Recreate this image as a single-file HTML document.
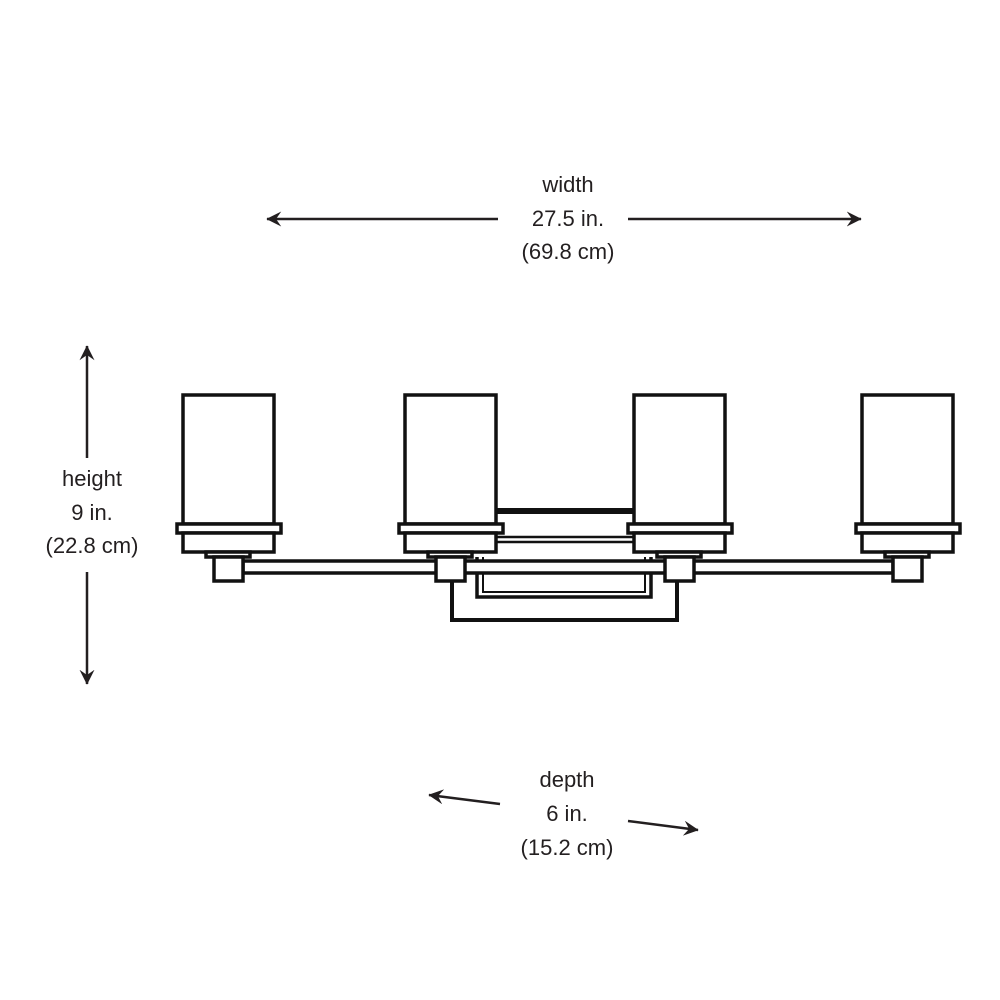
<!DOCTYPE html>
<html><head><meta charset="utf-8"><style>
html,body{margin:0;padding:0;background:#fff;width:1000px;height:1000px;overflow:hidden}
svg{display:block}
text{font-family:"Liberation Sans",sans-serif;font-size:22px;fill:#231f20;text-anchor:middle}
</style></head><body>
<svg width="1000" height="1000" viewBox="0 0 1000 1000">
<defs><marker id="a" viewBox="0 0 10 10" refX="9.5" refY="5" markerWidth="6" markerHeight="6" orient="auto"><path d="M0,0 L10,5 L0,10 L3.5,5 z" fill="#231f20"/></marker></defs>
<g stroke="#231f20" stroke-width="2.5" fill="none">
<line x1="498" y1="219" x2="267" y2="219" marker-end="url(#a)"/>
<line x1="628" y1="219" x2="861" y2="219" marker-end="url(#a)"/>
<line x1="87" y1="458" x2="87" y2="346" marker-end="url(#a)"/>
<line x1="87" y1="572" x2="87" y2="684" marker-end="url(#a)"/>
<line x1="500" y1="804" x2="429" y2="795" marker-end="url(#a)"/>
<line x1="628" y1="821" x2="698" y2="830" marker-end="url(#a)"/>
</g>
<g stroke="#111" stroke-width="3.5" fill="#fff">
<polyline points="452,581 452,620 677,620 677,581" stroke-width="4"/>
<polyline points="477,557 477,597 651,597 651,557"/>
<polyline points="483,557 483,592 645,592 645,557" stroke-width="2"/>
<rect x="497" y="508" width="137" height="6" fill="#111" stroke="none"/>
<line x1="497" y1="537" x2="634" y2="537" stroke-width="2.5"/>
<line x1="497" y1="542" x2="634" y2="542" stroke-width="2.5"/>
<rect x="243" y="561" width="650" height="12"/>
<g id="f">
<rect x="183" y="395" width="91" height="129"/>
<rect x="177" y="524" width="104" height="9"/>
<rect x="183" y="533" width="91" height="19"/>
<rect x="206" y="552" width="44" height="5"/>
<rect x="214" y="557" width="29" height="24"/>
</g>
<use href="#f" x="222"/>
<use href="#f" x="451"/>
<use href="#f" x="679"/>
</g>
<text x="568" y="192">width</text>
<text x="568" y="226">27.5 in.</text>
<text x="568" y="259">(69.8 cm)</text>
<text x="92" y="486">height</text>
<text x="92" y="520">9 in.</text>
<text x="92" y="553">(22.8 cm)</text>
<text x="567" y="787">depth</text>
<text x="567" y="821">6 in.</text>
<text x="567" y="855">(15.2 cm)</text>
</svg>
</body></html>
